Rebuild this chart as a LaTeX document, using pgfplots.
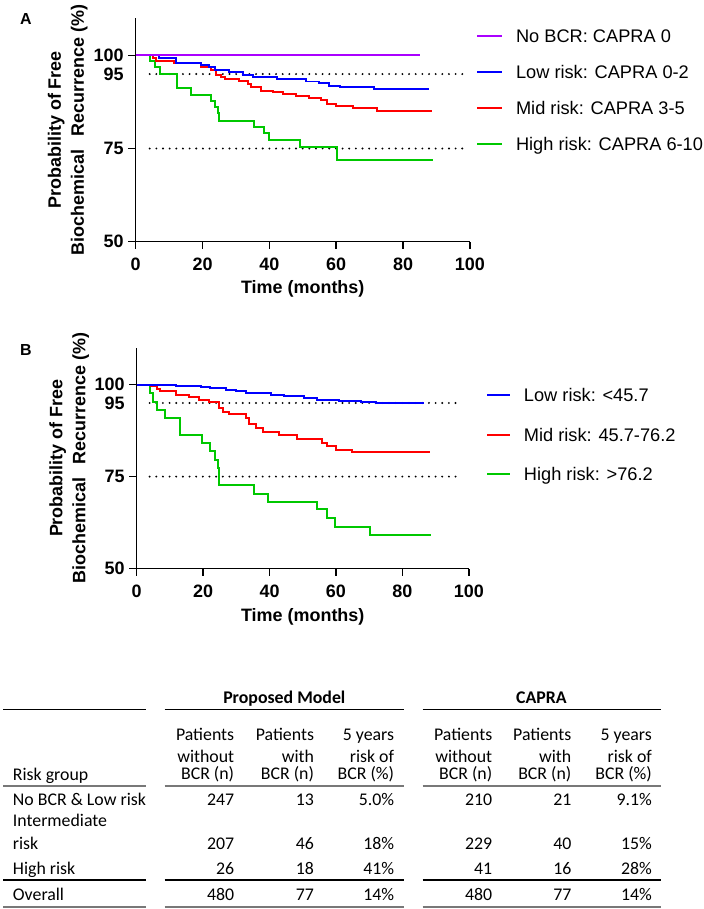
\documentclass[border=0pt]{standalone}
\usepackage{fontspec}
\setmainfont{Liberation Sans}
\newfontfamily\tabfont{Carlito}
\usepackage{pgfplots}
\pgfplotsset{compat=1.18}
\definecolor{kmpurple}{RGB}{170,0,255}
\definecolor{kmblue}{RGB}{0,0,255}
\definecolor{kmred}{RGB}{255,0,0}
\definecolor{kmgreen}{RGB}{0,200,0}
\definecolor{rulegray}{RGB}{120,120,120}

\pgfplotsset{
 kmaxis/.style={
  scale only axis, axis lines=left, axis line style={-, line width=1.25pt},
  xmin=0,xmax=100,ymin=50,ymax=110,
  xtick={0,20,...,100}, ytick={50,75,100},
  extra y ticks={95}, extra y tick style={major tick style={draw=none}},
  tick align=outside, major tick length=5.5pt,
  every tick/.style={black, line width=1.25pt},
  /pgf/number format/assume math mode=true,
  tick label style={font=\bfseries\fontsize{13.5}{16}\selectfont},
  xticklabel style={yshift=-3pt},
  label style={font=\bfseries\fontsize{13.5}{17.25}\selectfont},
  xlabel={Time (months)},
  ylabel={Probability of Free\\Biochemical\hspace{0.75em}Recurrence (\%)},
  ylabel style={align=center, at={(axis description cs:-0.203,0.5)}, anchor=center},
  reverse legend,
  legend style={draw=none, fill=none, inner sep=0pt,
    font=\fontsize{13.7}{16}\selectfont,
    nodes={inner sep=0pt, text height=10pt, text depth=3pt},
    cells={anchor=base west},
    /tikz/every odd column/.append style={column sep=9.75pt}},
 },
 km/.style={const plot, line width=1.5pt, line join=miter},
 refline/.style={black, line width=1.6pt, dash pattern=on 0pt off 5pt, line cap=round, forget plot},
}

\begin{document}
\begin{tikzpicture}
\begin{scope}[x=0.75pt,y=-0.75pt]
\path[use as bounding box] (0,0) rectangle (704,909);
\coordinate (oA) at (136,240);
\coordinate (oB) at (137,567.7);
\node[font=\bfseries\fontsize{12}{14}\selectfont, inner sep=0pt] at (26,17) {A};
\node[font=\bfseries\fontsize{12}{14}\selectfont, inner sep=0pt] at (26,349) {B};
\end{scope}

% ---------------- Panel A ----------------
\begin{axis}[kmaxis, at={(oA)}, anchor=south west,
  width=251.25pt, height=168pt,
  xlabel style={at={(axis description cs:0.5,-0.21)}, anchor=center},
  legend image code/.code={\draw[#1] (0pt,4.9pt) -- (18.75pt,4.9pt);},
  legend style={at={(1.018,0.950)}, anchor=north west, row sep=14pt}]
\addplot[refline] coordinates {(4.2,95) (98.7,95)};
\addplot[refline] coordinates {(4.2,75) (98.7,75)};
\addplot[kmgreen, km] coordinates {(0,100) (4.2,98.4) (5.7,96.8) (7.2,94.9) (12.5,91.2) (16.6,89.5) (22.6,87.8) (23.6,86.2) (24.5,84.5) (25,82.4) (35.5,80.8) (38.5,79.1) (39.8,77.2) (49.2,75.5) (60.1,72.0) (89,72.0)};
\addlegendentry{High risk: CAPRA 6-10}
\addplot[kmred, km] coordinates {(0,100) (5.2,99.3) (6.1,98.6) (11.6,97.9) (19.6,96.8) (22.6,96.2) (24,94.8) (25.5,94.1) (26.6,93.7) (31,93.2) (33.5,92.3) (34.5,91.4) (37.5,90.5) (41,90.1) (44,89.6) (48,89.0) (52,88.5) (55.5,87.9) (57.3,87.0) (60,86.5) (65,85.8) (72.2,85.1) (88.7,85.1)};
\addlegendentry{Mid risk: CAPRA 3-5}
\addplot[kmblue, km] coordinates {(0,100) (7,99.4) (12,97.9) (19.6,97.3) (22,96.8) (23.6,96.2) (28,95.5) (32,94.8) (35,94.1) (42.4,93.6) (51,93.0) (55,92.6) (58,91.9) (61,91.4) (71.3,90.9) (87.8,90.9)};
\addlegendentry{Low risk: CAPRA 0-2}
\addplot[kmpurple, km] coordinates {(0,100) (85,100)};
\addlegendentry{No BCR: CAPRA 0}
\end{axis}

% ---------------- Panel B ----------------
\begin{axis}[kmaxis, at={(oB)}, anchor=south west,
  width=249.75pt, height=165.96pt,
  xlabel style={at={(axis description cs:0.5,-0.217)}, anchor=center},
  legend image code/.code={\draw[#1] (0pt,4.9pt) -- (17.25pt,4.9pt);},
  legend style={at={(1.051,0.816)}, anchor=north west, row sep=16.6pt}]
\addplot[refline] coordinates {(3.9,95) (97.9,95)};
\addplot[refline] coordinates {(3.9,75) (97.9,75)};
\addplot[kmgreen, km] coordinates {(0,100) (4.1,97.7) (4.9,95.3) (6.0,93.2) (8.6,90.9) (12.9,86.4) (19.7,84.2) (22.1,81.9) (23.7,79.5) (24.4,77.2) (24.9,72.6) (35.2,70.3) (39.4,68.1) (54.4,66.1) (57.3,63.8) (59.7,61.4) (70.2,59.0) (88.7,59.0)};
\addlegendentry{High risk: >76.2}
\addplot[kmred, km] coordinates {(0,100) (4.4,99.5) (6.0,98.8) (6.9,98.2) (11.9,97.3) (15.9,96.7) (18.9,95.9) (21.9,95.3) (24.9,93.7) (25.9,92.6) (27.9,91.9) (32.9,91.0) (33.9,89.2) (35.9,88.2) (37.9,87.2) (42.9,86.4) (48.4,85.1) (55.9,84.2) (57.4,83.3) (59.9,82.2) (64.9,81.7) (88.4,81.7)};
\addlegendentry{Mid risk: 45.7-76.2}
\addplot[kmblue, km] coordinates {(0,100) (11.9,99.6) (19.4,99.4) (22,99.1) (26.9,98.6) (30,98.2) (32.9,97.7) (40.4,97.3) (44.4,96.8) (50.4,96.4) (54.4,95.9) (60.9,95.6) (67.4,95.3) (71.9,94.9) (86.4,94.9)};
\addlegendentry{Low risk: <45.7}
\end{axis}

% ---------------- Table ----------------
\begin{scope}[x=0.75pt,y=-0.75pt, every node/.style={inner sep=0pt, font=\tabfont\fontsize{13.4}{16}\selectfont}]
\node[anchor=base, font=\tabfont\bfseries\fontsize{13.4}{16}\selectfont] at (285,702.7) {Proposed Model};
\node[anchor=base, font=\tabfont\bfseries\fontsize{13.4}{16}\selectfont] at (542.7,702.7) {CAPRA};
% rules
\foreach \yy/\cc/\ww in {709.3/black/1.0pt, 786/rulegray/1.5pt, 880/black/1.0pt, 906.7/rulegray/1.5pt}{
  \draw[\cc, line width=\ww] (3.3,\yy) -- (146.7,\yy);
  \draw[\cc, line width=\ww] (165,\yy) -- (404.7,\yy);
  \draw[\cc, line width=\ww] (423.7,\yy) -- (662.7,\yy);
}
\node[anchor=base west] at (12.7,780) {Risk group};
% column headers
\foreach \xx/\la/\lb/\lc in {235/Patients/without/BCR (n), 315/Patients/with/BCR (n), 395.3/5 years/risk of/BCR (\%), 493.7/Patients/without/BCR (n), 573/Patients/with/BCR (n), 653.7/5 years/risk of/BCR (\%)}{
  \node[anchor=base east] at (\xx,740) {\la};
  \node[anchor=base east] at (\xx,761.7) {\lb};
  \node[anchor=base east] at (\xx,779.3) {\lc};
}
% row labels
\node[anchor=base west] at (12.7,805) {No BCR \& Low risk};
\node[anchor=base west] at (12.7,826.7) {Intermediate};
\node[anchor=base west] at (12.7,849.3) {risk};
\node[anchor=base west] at (12.7,874) {High risk};
\node[anchor=base west] at (12.7,900.7) {Overall};
% values
\foreach \yy/\a/\b/\c/\d/\e/\f in {805/247/13/5.0\%/210/21/9.1\%, 849.3/207/46/18\%/229/40/15\%, 874/26/18/41\%/41/16/28\%, 900.7/480/77/14\%/480/77/14\%}{
  \node[anchor=base east] at (235,\yy) {\a};
  \node[anchor=base east] at (315,\yy) {\b};
  \node[anchor=base east] at (395.3,\yy) {\c};
  \node[anchor=base east] at (493.7,\yy) {\d};
  \node[anchor=base east] at (573,\yy) {\e};
  \node[anchor=base east] at (653.7,\yy) {\f};
}
\end{scope}
\end{tikzpicture}
\end{document}
